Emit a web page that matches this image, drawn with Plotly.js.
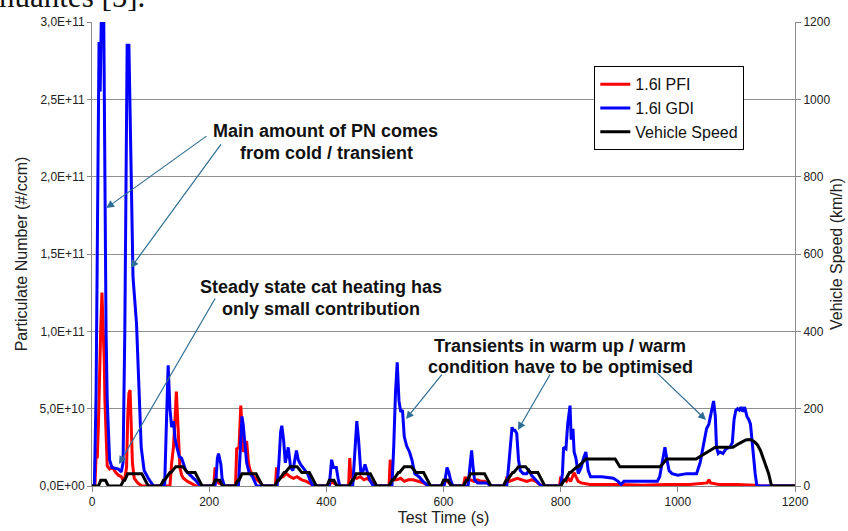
<!DOCTYPE html>
<html>
<head>
<meta charset="utf-8">
<script src="https://cdn.plot.ly/plotly-3.0.1.min.js"></script>
<style>html,body{margin:0;padding:0;background:#fff;}#chart{width:848px;height:531px;}</style>
</head>
<body>
<div id="chart"></div>
<script>
// Particulate number values in units of 1e9 #/ccm (left axis), speed in km/h (right axis)
const tPFI = [0,5,7,9,11,13,15,17,19,21,22,24,26,30,35,40,45,50,53,56,59,61,63,65,67,69,72,78,85,
  133,136,139,142,144,146,148,150,153,156,163,172,178,
  208,210,212,216,222,226,
  245,247,251,253,254,256,258,261,264,267,270,276,285,292,
  313,315,317,320,326,332,338,344,350,358,366,375,380,
  405,408,412,418,422,
  438,440,442,446,452,458,464,470,476,482,486,
  507,509,511,514,520,527,533,540,548,556,566,574,
  600,603,606,610,614,
  634,637,640,646,652,658,664,670,678,683,
  706,708,712,718,726,734,742,750,758,764,770,
  798,800,803,806,810,813,817,820,823,826,830,835,850,870,900,940,980,1020,1050,1053,1056,1070,1100,1130,1140,1200];
const pfi = [0,0,20,18,40,80,103,125,105,80,56,25,13,11,12,9,7,6,4,5,12,45,60,62,40,15,5,2,0,
  0,15,25,45,61,45,23,12,7,5,3,1,0,
  0,12,4,2,1,0,
  0,24,25,45,52,38,22,26,29,15,10,6,3,0,
  0,12,3,5,6,8,6,5,6,4,3,1,0,
  0,3,2,1,0,
  0,18,5,6,5,6,4,5,3,1,0,
  0,17,5,4,4,5,3,4,4,3,2,0,
  0,5,3,2,0,
  0,6,3,4,3,4,3,3,1,0,
  0,6,3,4,5,4,3,4,3,1,0,
  0,6,3,4,3,5,3,6,8.6,6,3,2,1,1,1,0.5,1,1,2,4,2,1,1,0.5,0,0];

const tGDI = [0,4,7,10,12,14,16,20,22,24,26,30,34,45,50,53,56,58,60,63,66,70,76,80,84,89,96,105,
  124,127,130,133,136,139,142,145,149,153,160,165,176,185,
  210,212,214,216,218,220,222,226,
  250,253,256,258,261,264,268,274,281,
  316,319,322,324,327,330,335,339,343,349,352,356,362,368,372,377,
  405,407,409,412,417,420,423,
  445,448,452,455,459,463,466,470,474,480,
  512,515,518,521,524,527,530,533,537,542,546,551,558,565,574,
  601,604,606,609,612,616,
  642,645,648,650,653,658,675,680,
  708,711,714,717,719,722,725,728,731,736,742,746,750,757,767,
  800,803,805,809,812,816,818,821,823,826,830,835,839,843,847,851,870,890,898,903,908,940,965,
  969,973,978,981,985,990,1000,1015,1032,1038,1043,1049,1053,1057,1061,1064,1066,1069,1072,1077,1082,1089,1093,
  1096,1099,1102,1105,1108,1111,1114,1118,1121,1124,1126,1129,1132,1135,1200];
const gdi = [0,0,60,200,287,255,305,305,185,100,55,17,12,11,9,15,100,200,285,285,215,135,105,62,25,10,5,0,
  0,40,78,50,38,42,30,25,19,18,10,8,4,0,
  0,6,18,21,16,14,5,0,
  0,20,45,40,29,15,9,6,0,
  0,15,35,39,30,15,25,12,10,23,17,14,11,8,4,0,
  0,10,17,12,12,5,0,
  0,20,42,30,8,10,14,9,4,0,
  0,25,60,80,55,48,49,32,26,22,17,8,6,3,0,
  0,8,12,9,4,0,
  0,12,23,14,4,2,2,0,
  0,12,25,38,36,36,34,17,10,8,8,10,7,4,0,
  0,8,25,24,40,52,30,37,22,18,8,12,18,22,10,6,6,5,3,1,3,3,3,
  6,15,25,18,10,8,7,8,8,15,25,37,40,47,55,45,25,21,22,21,24,25,28,
  43,49,50,49,51,48,51,45,43,40,32,19,8,0,0];

const tSpeed = [0,11,15,23,28,49,54,56,61,85,96,117,122,124,133,135,143,155,163,176,188,
  206,210,218,223,244,249,251,256,280,291,312,317,319,328,330,338,350,358,371,383,
  401,405,413,418,439,444,446,451,475,486,507,512,514,523,525,533,545,553,566,578,
  596,600,608,613,634,639,641,646,670,681,702,707,709,718,720,728,740,748,761,773,
  800,806,808,815,817,828,830,843,893,901,970,981,1031,1064,1094,1106,1116,1122,1127,1131,1136,1141,1146,1151,1155,1160,1200];
const speed = [0,0,15,15,0,0,15,15,32,32,0,0,15,15,35,35,50,50,35,35,0,
  0,15,15,0,0,15,15,32,32,0,0,15,15,35,35,50,50,35,35,0,
  0,15,15,0,0,15,15,32,32,0,0,15,15,35,35,50,50,35,35,0,
  0,15,15,0,0,15,15,32,32,0,0,15,15,35,35,50,50,35,35,0,
  0,15,15,35,35,50,50,70,70,50,50,70,70,100,100,111,119,120,118,114,106,92,70,48,32,0,0];

const seriesNames = ['1.6l PFI','1.6l GDI','Vehicle Speed'];
const yTickVals = [0,50,100,150,200,250,300];
const yTickText = ['0,0E+00','5,0E+10','1,0E+11','1,5E+11','2,0E+11','2,5E+11','3,0E+11'];

const traces = [
  {x:tPFI, y:pfi, name:seriesNames[0], type:'scatter', mode:'lines', line:{color:'#ff0000', width:3}, yaxis:'y'},
  {x:tGDI, y:gdi, name:seriesNames[1], type:'scatter', mode:'lines', line:{color:'#0000ff', width:3}, yaxis:'y'},
  {x:tSpeed, y:speed, name:seriesNames[2], type:'scatter', mode:'lines', line:{color:'#000000', width:3}, yaxis:'y2'}
];

const FF = 'Arial, "Liberation Sans", sans-serif';
const arrowColor = '#2e6e96';
const txtFont = {family:FF, size:18, color:'#111'};
function arrow(x, y, ax, ay){
  return {x:x, y:y, xref:'x', yref:'y', ax:ax, ay:ay, text:'', showarrow:true,
    arrowhead:2, arrowsize:1.3, arrowwidth:1.2, arrowcolor:arrowColor, standoff:0};
}
function label(px, py, text){
  return {x:(px-92)/703, y:(486-py)/464, xref:'paper', yref:'paper', text:text, showarrow:false,
    xanchor:'center', yanchor:'middle', font:txtFont, align:'center'};
}

const layout = {
  width:848, height:531,
  margin:{l:92, r:53, t:22, b:45},
  paper_bgcolor:'#fff', plot_bgcolor:'#fff',
  showlegend:true,
  legend:{x:(594-92)/703, y:(486-66)/464, xanchor:'left', yanchor:'top',
    bgcolor:'#fff', bordercolor:'#000', borderwidth:1.3,
    font:{family:FF, size:16, color:'#111'},
    tracegroupgap:0, itemwidth:30},
  xaxis:{range:[0,1200], dtick:200, showgrid:false, zeroline:false, showline:true, linecolor:'#8a8a8a', linewidth:1,
    ticks:'outside', ticklen:5, tickcolor:'#8a8a8a',
    tickfont:{family:FF, size:12, color:'#222'},
    title:{text:'Test Time (s)', standoff:3, font:{family:FF, size:16, color:'#222'}}},
  yaxis:{range:[0,300], tickvals:yTickVals, ticktext:yTickText, showgrid:true, gridcolor:'#8f8f8f', gridwidth:1,
    zeroline:false, showline:true, linecolor:'#8a8a8a', ticks:'outside', ticklen:4, tickcolor:'#8a8a8a',
    tickfont:{family:FF, size:12, color:'#222'},
    title:{text:'Particulate Number (#/ccm)', standoff:7, font:{family:FF, size:16, color:'#222'}}},
  yaxis2:{range:[0,1200], dtick:200, overlaying:'y', side:'right', showgrid:false, zeroline:false,
    showline:true, linecolor:'#8a8a8a', ticks:'outside', ticklen:5, tickcolor:'#8a8a8a',
    tickfont:{family:FF, size:12, color:'#222'},
    title:{text:'Vehicle Speed (km/h)', standoff:1, font:{family:FF, size:16, color:'#222'}}},
  shapes:[
    {type:'rect', xref:'paper', yref:'paper', x0:(567-92)/703, x1:(785-92)/703, y0:(486-140)/464, y1:(486-60)/464,
     fillcolor:'#fff', line:{width:0}, layer:'between'}
  ],
  annotations:[
    {x:(-3-92)/703, y:(486+3)/464, xref:'paper', yref:'paper', xanchor:'left', yanchor:'middle', showarrow:false,
     text:'nuantes [5].', font:{family:'"Liberation Serif", "DejaVu Serif", serif', size:31, color:'#111'}},
    label(325, 131, '<b>Main amount of PN comes</b>'),
    label(326, 153, '<b>from cold / transient</b>'),
    label(321, 287, '<b>Steady state cat heating has</b>'),
    label(321, 309, '<b>only small contribution</b>'),
    label(560, 346, '<b>Transients in warm up / warm</b>'),
    label(560, 367, '<b>condition have to be optimised</b>'),
    arrow(24.4, 179.7, 101.7, -73),
    arrow(66.1, 141, 91.3, -125),
    arrow(46.1, 14.2, 97, -167),
    arrow(536, 43.3, 37, -46),
    arrow(727, 36.2, 33, -57),
    arrow(1048, 42.7, -51, -49)
  ]
};

Plotly.newPlot('chart', traces, layout, {displayModeBar:false, staticPlot:true});
</script>
</body>
</html>
